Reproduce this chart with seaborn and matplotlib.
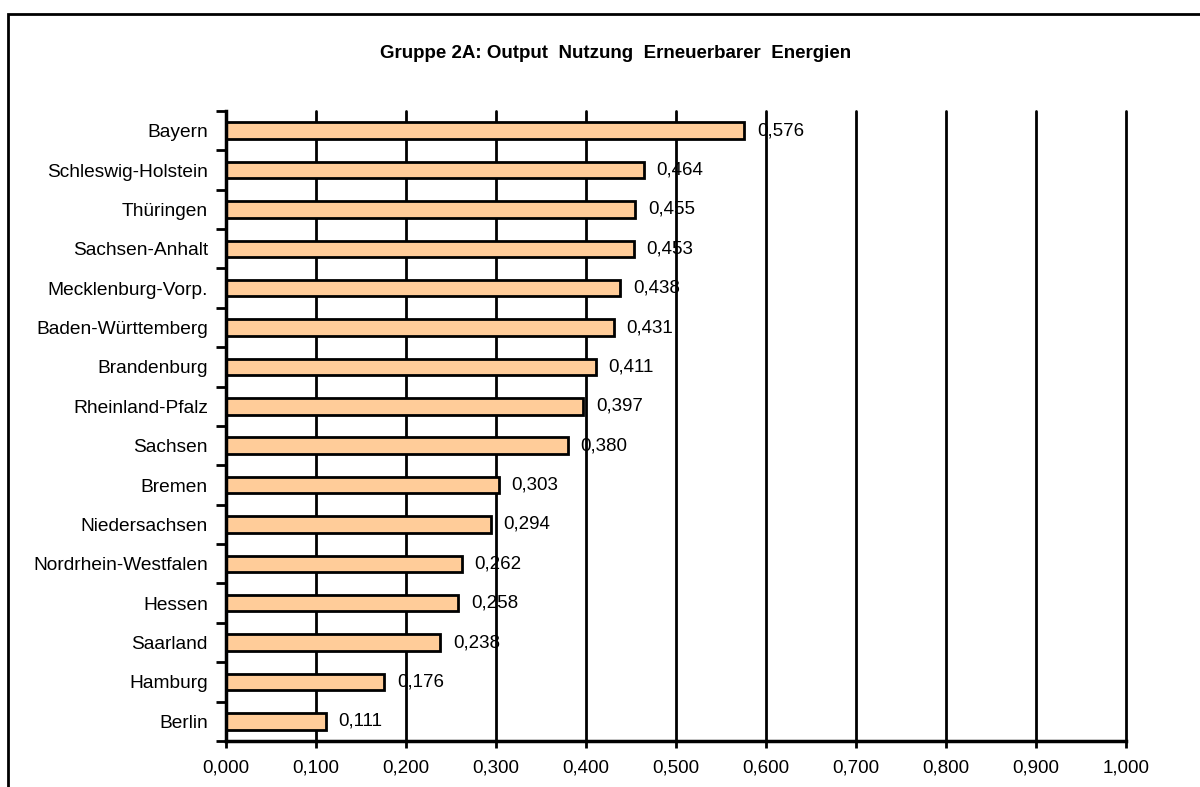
import matplotlib
matplotlib.use("Agg")
import matplotlib.pyplot as plt
import matplotlib.patches as mpatches
from matplotlib.ticker import FuncFormatter
import seaborn as sns
import pandas as pd

laender = ["Bayern", "Schleswig-Holstein", "Thüringen", "Sachsen-Anhalt",
           "Mecklenburg-Vorp.", "Baden-Württemberg", "Brandenburg",
           "Rheinland-Pfalz", "Sachsen", "Bremen", "Niedersachsen",
           "Nordrhein-Westfalen", "Hessen", "Saarland", "Hamburg", "Berlin"]
werte = [0.576, 0.464, 0.455, 0.453, 0.438, 0.431, 0.411, 0.397, 0.380,
         0.303, 0.294, 0.262, 0.258, 0.238, 0.176, 0.111]
x_ticks = [0.0, 0.1, 0.2, 0.3, 0.4, 0.5, 0.6, 0.7, 0.8, 0.9, 1.0]

sns.set_style("white")
plt.rcParams['font.family'] = ['Liberation Sans', 'DejaVu Sans']
plt.rcParams['text.color'] = 'black'
plt.rcParams['xtick.color'] = 'black'
plt.rcParams['ytick.color'] = 'black'

df = pd.DataFrame({"Land": laender, "Wert": werte})

fig = plt.figure(figsize=(12, 7.87), dpi=100)
ax = fig.add_axes([0.1883, 0.0585, 0.75, 0.8005])

sns.barplot(data=df, x="Wert", y="Land", orient="h", color="#FFCC99",
            edgecolor="black", linewidth=2, width=0.42, saturation=1, ax=ax)

ax.set_xlim(0, 1.0)
ax.set_ylim(len(laender) - 0.5, -0.5)
ax.set_xticks(x_ticks)
ax.xaxis.set_major_formatter(FuncFormatter(lambda v, p: f"{v:.3f}".replace(".", ",")))
# Trennstriche zwischen den Kategorien, Beschriftung auf Nebenticks
ax.set_yticks([i + 0.5 for i in range(-1, len(laender))], minor=False)
ax.set_yticklabels([])
ax.set_yticks(range(len(laender)), minor=True)
ax.set_yticklabels(laender, minor=True)
ax.tick_params(axis="y", which="major", direction="out", length=7, width=2, color="black", left=True)
ax.tick_params(axis="y", which="minor", length=0, pad=13, labelsize=13.8)
ax.tick_params(axis="x", direction="out", length=5, width=2, color="black", bottom=True, labelsize=13.5, pad=8)
ax.set_xlabel("")
ax.set_ylabel("")

ax.grid(axis="x", color="black", linewidth=2)
for gl in ax.get_xgridlines():
    gl.set_clip_on(False)
ax.set_axisbelow(True)
for s in ["top", "right"]:
    ax.spines[s].set_visible(False)
for s in ["left", "bottom"]:
    ax.spines[s].set_color("black")
    ax.spines[s].set_linewidth(2.5)

for i, v in enumerate(werte):
    ax.text(v + 0.014, i, f"{v:.3f}".replace(".", ","), va="center", ha="left",
            fontsize=13.5, color="black")

fig.text(616 / 1200, 1 - 53 / 787, "Gruppe 2A: Output  Nutzung  Erneuerbarer  Energien",
         ha="center", va="center", fontsize=13.5, fontweight="bold", color="black")

frame = mpatches.Rectangle((8 / 1200, -0.05), 1.2, 1 - 14 / 787 + 0.05,
                           transform=fig.transFigure, fill=False,
                           edgecolor="black", linewidth=2, clip_on=False)
fig.patches.append(frame)

fig.savefig("out.png", dpi=100)
plt.close(fig)
